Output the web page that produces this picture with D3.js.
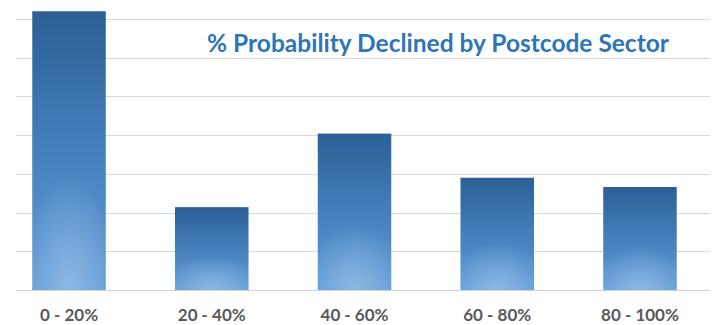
<!DOCTYPE html>
<html>
<head>
<meta charset="utf-8">
<script src="https://cdn.jsdelivr.net/npm/d3@7"></script>
<style>
  body { margin: 0; background: #fff; }
  svg { display: block; }
</style>
</head>
<body>
<div id="chart"></div>
<script>
// chart data
var categories = ["0 - 20%", "20 - 40%", "40 - 60%", "60 - 80%", "80 - 100%"];
var values = [36.0, 10.7, 20.2, 14.5, 13.3];
var gridTicks = [0, 5, 10, 15, 20, 25, 30, 35];
var title = "% Probability Declined by Postcode Sector";

var width = 715, height = 325;

var svg = d3.select("#chart").append("svg")
    .attr("width", width)
    .attr("height", height);

var defs = svg.append("defs");

// vertical shade, dark on top
var lin = defs.append("linearGradient")
    .attr("id", "barLin")
    .attr("x1", 0).attr("y1", 0).attr("x2", 0).attr("y2", 1);
lin.append("stop").attr("offset", "0%").attr("stop-color", "#2b5f95");
lin.append("stop").attr("offset", "50%").attr("stop-color", "#4580bd");
lin.append("stop").attr("offset", "100%").attr("stop-color", "#5f9ad6");

// soft light spot at the bottom middle
var rad = defs.append("radialGradient")
    .attr("id", "barGlow")
    .attr("cx", 0.5).attr("cy", 1).attr("r", 0.7)
    .attr("gradientTransform", "translate(0.5,1) scale(1,0.6) translate(-0.5,-1)");
rad.append("stop").attr("offset", "0%").attr("stop-color", "#9cc4ea").attr("stop-opacity", 0.75);
rad.append("stop").attr("offset", "100%").attr("stop-color", "#9cc4ea").attr("stop-opacity", 0);

var x = d3.scaleBand()
    .domain(categories)
    .range([-2, 711])
    .paddingInner(0.485)
    .paddingOuter(0.24);

var y = d3.scaleLinear()
    .domain([0, 35])
    .range([290, 19]);

// gridlines
svg.append("g").selectAll("line")
    .data(gridTicks)
    .enter().append("line")
    .attr("x1", 16)
    .attr("x2", 710)
    .attr("y1", function(d) { return Math.round(y(d)) + 0.5; })
    .attr("y2", function(d) { return Math.round(y(d)) + 0.5; })
    .style("stroke", function(d) { return d === 0 ? "#d0d0d0" : "#d9d9d9"; })
    .style("stroke-width", 1);

// bars
var bars = svg.append("g").selectAll("g")
    .data(values)
    .enter().append("g");

bars.append("rect")
    .attr("x", function(d, i) { return x(categories[i]); })
    .attr("y", function(d) { return y(d); })
    .attr("width", x.bandwidth())
    .attr("height", function(d) { return y(0) - y(d); })
    .style("fill", "url(#barLin)");

bars.append("rect")
    .attr("x", function(d, i) { return x(categories[i]); })
    .attr("y", function(d) { return y(d); })
    .attr("width", x.bandwidth())
    .attr("height", function(d) { return y(0) - y(d); })
    .style("fill", "url(#barGlow)");

// category labels
var xAxis = d3.axisBottom(x).tickSize(0).tickPadding(0);
var ax = svg.append("g")
    .attr("transform", "translate(0,309)")
    .call(xAxis);
ax.select(".domain").remove();
ax.selectAll("text")
    .attr("dy", "0.71em")
    .style("font-family", "Lato, 'Open Sans', sans-serif")
    .style("font-weight", "bold")
    .style("font-size", "17px")
    .style("fill", "#595959");

// title
svg.append("text")
    .attr("x", 438)
    .attr("y", 52)
    .attr("text-anchor", "middle")
    .style("font-family", "Lato, 'Open Sans', sans-serif")
    .style("font-weight", "bold")
    .style("font-size", "24.5px")
    .style("fill", "#2e75b6")
    .text(title);
</script>
</body>
</html>
